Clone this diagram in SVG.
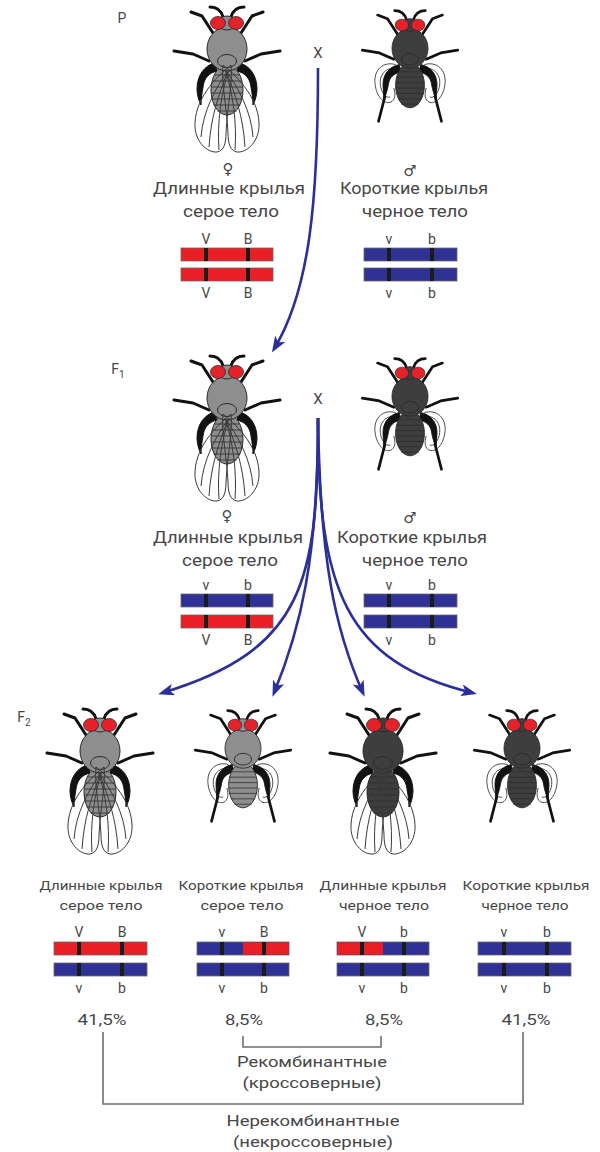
<svg xmlns="http://www.w3.org/2000/svg" xmlns:xlink="http://www.w3.org/1999/xlink" width="600" height="1152" viewBox="0 0 600 1152">
  <style>
    .t{font-family:Roboto,"Liberation Sans",Arial,sans-serif;fill:#474747;text-anchor:middle}
    .big{font-size:16px}
    .sm{font-size:13px}
    .gene{font-size:14px}
    .pct{font-size:14px}
    .sym{font-family:"DejaVu Sans",sans-serif;font-size:15px;fill:#474747;text-anchor:middle}
    .arrow{fill:none;stroke:#2b2f9c;stroke-width:2.6}
    .br{fill:none;stroke:#707070;stroke-width:1.6}
    .chr-r{fill:#ea1f26;stroke:#6a6a6a;stroke-width:.8}
    .chr-b{fill:#2f3194;stroke:#6a6a6a;stroke-width:.8}
    .red{fill:#ea1f26}
    .band{fill:#1b1b1b}
    .leg{fill:none;stroke:#111;stroke-width:3;stroke-linejoin:round;stroke-linecap:round}
    .hind{fill:#111;stroke:#111;stroke-width:1}
    .bd{stroke:#2a2a2a;stroke-width:1}
    .seg{fill:none;stroke:#2a2a2a;stroke-width:.8}
    .wing{fill:none;stroke:#3a3a3a;stroke-width:1}
    .eye{fill:#e5222a;stroke:#2a2a2a;stroke-width:.8}
  </style>
  <defs>
    <marker id="head" viewBox="0 0 16 12" refX="12" refY="6" markerWidth="16" markerHeight="12" markerUnits="userSpaceOnUse" orient="auto">
      <path d="M0,0 L16,6 L0,12 L4,6 Z" fill="#2b2f9c"/>
    </marker>
    <!-- one side of a fly; the other side is mirrored -->
    <g id="legsL">
      <path class="leg" d="M-14,10 L-25,-7 L-36,-11"/>
      <path class="leg" d="M-18,38 L-34,31 L-53,28"/>
    </g>
    <path id="hindLongL" class="hind" d="M-12,40 C-22,42 -30,52 -30,66 C-30,72 -28,78 -26,82 C-26,76 -25,70 -24,64 C-23,55 -18,50 -10,48 Z"/>
    <g id="hindShortL">
      <path class="hind" d="M-12,44 C-22,46 -30,54 -30,66 C-30,72 -29,78 -29,84 C-27,78 -25,72 -24,66 C-23,58 -18,54 -10,52 Z"/>
      <path class="leg" d="M-28,80 L-35,107" stroke-width="2.6"/>
    </g>
    <g id="wingLongL" class="wing">
      <path d="M4,42 C-6,50 -31,72 -32,100 C-33,118 -20,130 -10,129 C-3,128 -1,120 -1,110 C0,86 6,58 4,42 Z"/>
      <path d="M2,46 C-6,70 -10,100 -8,127"/>
      <path d="M2,46 C-12,66 -24,88 -26,114"/>
      <path d="M0,50 C-8,72 -16,92 -18,124"/>
    </g>
    <g id="wingShortL" class="wing">
      <path d="M-16,44 C-30,40 -40,50 -39,64 C-38,78 -30,88 -22,86 C-16,84 -16,76 -18,70"/>
      <path d="M-18,48 C-28,48 -34,56 -33,66 C-32,76 -26,82 -22,80"/>
    </g>
    <g id="body">
      <path class="leg" d="M-4,-6 C-6,-13 -10,-16 -17,-16 M4,-6 C6,-13 10,-16 17,-16" stroke-width="2.4"/>
      <ellipse class="bd" cx="0" cy="67" rx="16" ry="25"/>
      <path class="seg" d="M-12,52 H12 M-14.7,58 H14.7 M-15.8,64 H15.8 M-15.9,70 H15.9 M-15.2,76 H15.2 M-13.3,82 H13.3 M-9.6,88 H9.6"/>
      <ellipse class="bd" cx="0" cy="26" rx="20" ry="22"/>
      <ellipse class="bd" cx="0" cy="38" rx="9.5" ry="6.5"/>
      <ellipse class="bd" cx="0" cy="0" rx="9" ry="7"/>
      <ellipse class="eye" cx="-9" cy="0" rx="7.5" ry="6.5"/>
      <ellipse class="eye" cx="9" cy="0" rx="7.5" ry="6.5"/>
    </g>
    <g id="flyLong">
      <use href="#legsL"/>
      <use href="#legsL" transform="scale(-1,1)"/>
      <use href="#hindLongL"/>
      <use href="#hindLongL" transform="scale(-1,1)"/>
      <use href="#body"/>
      <use href="#wingLongL"/>
      <use href="#wingLongL" transform="scale(-1,1)"/>
    </g>
    <g id="flyShort">
      <use href="#wingShortL"/>
      <use href="#wingShortL" transform="scale(-1,1)"/>
      <use href="#legsL"/>
      <use href="#legsL" transform="scale(-1,1)"/>
      <use href="#hindShortL"/>
      <use href="#hindShortL" transform="scale(-1,1)"/>
      <use href="#body"/>
    </g>
  </defs>

  <rect width="600" height="1152" fill="#fff"/>

  <!-- generation labels -->
  <g id="gen-labels" class="t">
    <text x="122" y="23" font-size="14">P</text>
    <text x="118" y="374" font-size="14">F<tspan font-size="10" dy="4">1</tspan></text>
    <text x="24" y="722" font-size="14">F<tspan font-size="10" dy="4">2</tspan></text>
    <text x="318" y="58" font-size="15">X</text>
    <text x="318" y="404" font-size="15">X</text>
  </g>

  <!-- crossing arrows -->
  <g id="connectors" class="arrow">
    <path d="M318,68 C318,200 310,290 274,349" marker-end="url(#head)"/>
    <path d="M318,418 C318,580 305,650 162,693" marker-end="url(#head)"/>
    <path d="M318,418 C318,560 300,630 274,693" marker-end="url(#head)"/>
    <path d="M318,418 C320,560 335,630 363,693" marker-end="url(#head)"/>
    <path d="M318,418 C318,590 345,662 473,693" marker-end="url(#head)"/>
  </g>

  <!-- P generation -->
  <g id="p-female">
    <use href="#flyLong" fill="#8e8e8e" transform="translate(227,23)"/>
    <text class="sym" x="228" y="174">♀</text>
    <text class="t big" x="229" y="194" textLength="152" lengthAdjust="spacingAndGlyphs">Длинные крылья</text>
    <text class="t big" x="231" y="217" textLength="96" lengthAdjust="spacingAndGlyphs">серое тело</text>
    <rect class="chr-r" x="181" y="248" width="92" height="13"/>
    <rect class="chr-r" x="181" y="268" width="92" height="13"/>
    <rect class="band" x="204" y="248" width="4" height="13"/><rect class="band" x="246" y="248" width="4" height="13"/>
    <rect class="band" x="204" y="268" width="4" height="13"/><rect class="band" x="246" y="268" width="4" height="13"/>
    <text class="t gene" x="206" y="244">V</text><text class="t gene" x="248" y="244">B</text>
    <text class="t gene" x="206" y="298">V</text><text class="t gene" x="248" y="298">B</text>
  </g>
  <g id="p-male">
    <use href="#flyShort" fill="#3e3e3e" transform="translate(410,25) scale(0.9)"/>
    <text class="sym" x="410" y="176">♂</text>
    <text class="t big" x="414" y="194" textLength="148" lengthAdjust="spacingAndGlyphs">Короткие крылья</text>
    <text class="t big" x="415" y="217" textLength="106" lengthAdjust="spacingAndGlyphs">черное тело</text>
    <rect class="chr-b" x="364" y="248" width="93" height="13"/>
    <rect class="chr-b" x="364" y="268" width="93" height="13"/>
    <rect class="band" x="387" y="248" width="4" height="13"/><rect class="band" x="430" y="248" width="4" height="13"/>
    <rect class="band" x="387" y="268" width="4" height="13"/><rect class="band" x="430" y="268" width="4" height="13"/>
    <text class="t gene" x="389" y="244">v</text><text class="t gene" x="432" y="244">b</text>
    <text class="t gene" x="389" y="298">v</text><text class="t gene" x="432" y="298">b</text>
  </g>

  <!-- F1 generation -->
  <g id="f1-female">
    <use href="#flyLong" fill="#8e8e8e" transform="translate(227,372)"/>
    <text class="sym" x="227" y="521">♀</text>
    <text class="t big" x="228" y="543" textLength="150" lengthAdjust="spacingAndGlyphs">Длинные крылья</text>
    <text class="t big" x="230" y="566" textLength="96" lengthAdjust="spacingAndGlyphs">серое тело</text>
    <rect class="chr-b" x="181" y="594" width="92" height="13"/>
    <rect class="chr-r" x="181" y="615" width="92" height="13"/>
    <rect class="band" x="204" y="594" width="4" height="13"/><rect class="band" x="246" y="594" width="4" height="13"/>
    <rect class="band" x="204" y="615" width="4" height="13"/><rect class="band" x="246" y="615" width="4" height="13"/>
    <text class="t gene" x="206" y="590">v</text><text class="t gene" x="248" y="590">b</text>
    <text class="t gene" x="206" y="645">V</text><text class="t gene" x="248" y="645">B</text>
  </g>
  <g id="f1-male">
    <use href="#flyShort" fill="#3e3e3e" transform="translate(410,373) scale(0.9)"/>
    <text class="sym" x="410" y="523">♂</text>
    <text class="t big" x="412" y="543" textLength="150" lengthAdjust="spacingAndGlyphs">Короткие крылья</text>
    <text class="t big" x="415" y="566" textLength="106" lengthAdjust="spacingAndGlyphs">черное тело</text>
    <rect class="chr-b" x="364" y="594" width="93" height="13"/>
    <rect class="chr-b" x="364" y="615" width="93" height="13"/>
    <rect class="band" x="387" y="594" width="4" height="13"/><rect class="band" x="430" y="594" width="4" height="13"/>
    <rect class="band" x="387" y="615" width="4" height="13"/><rect class="band" x="430" y="615" width="4" height="13"/>
    <text class="t gene" x="389" y="590">v</text><text class="t gene" x="432" y="590">b</text>
    <text class="t gene" x="389" y="645">v</text><text class="t gene" x="432" y="645">b</text>
  </g>

  <!-- F2 generation -->
  <g id="f2-long-gray">
    <use href="#flyLong" fill="#8e8e8e" transform="translate(100,725)"/>
    <text class="t sm" x="101" y="890" textLength="123" lengthAdjust="spacingAndGlyphs">Длинные крылья</text>
    <text class="t sm" x="101" y="910" textLength="83" lengthAdjust="spacingAndGlyphs">серое тело</text>
    <rect class="chr-r" x="54" y="942" width="93" height="13"/>
    <rect class="chr-b" x="54" y="963" width="93" height="13"/>
    <rect class="band" x="77" y="942" width="4" height="13"/><rect class="band" x="120" y="942" width="4" height="13"/>
    <rect class="band" x="77" y="963" width="4" height="13"/><rect class="band" x="120" y="963" width="4" height="13"/>
    <text class="t gene" x="79" y="937">V</text><text class="t gene" x="122" y="937">B</text>
    <text class="t gene" x="79" y="993">v</text><text class="t gene" x="122" y="993">b</text>
    <text class="t pct" x="102" y="1025" textLength="49" lengthAdjust="spacingAndGlyphs">41,5%</text>
  </g>
  <g id="f2-short-gray">
    <use href="#flyShort" fill="#8e8e8e" transform="translate(243,725) scale(0.9)"/>
    <text class="t sm" x="241" y="890" textLength="125" lengthAdjust="spacingAndGlyphs">Короткие крылья</text>
    <text class="t sm" x="242" y="910" textLength="83" lengthAdjust="spacingAndGlyphs">серое тело</text>
    <rect class="chr-b" x="197" y="942" width="92" height="13"/>
    <rect class="red" x="243" y="942.4" width="45.6" height="12.2"/>
    <rect class="chr-b" x="197" y="963" width="92" height="13"/>
    <rect class="band" x="220" y="942" width="4" height="13"/><rect class="band" x="262" y="942" width="4" height="13"/>
    <rect class="band" x="220" y="963" width="4" height="13"/><rect class="band" x="262" y="963" width="4" height="13"/>
    <text class="t gene" x="222" y="937">v</text><text class="t gene" x="264" y="937">B</text>
    <text class="t gene" x="222" y="993">v</text><text class="t gene" x="264" y="993">b</text>
    <text class="t pct" x="244" y="1025" textLength="38" lengthAdjust="spacingAndGlyphs">8,5%</text>
  </g>
  <g id="f2-long-black">
    <use href="#flyLong" fill="#3e3e3e" transform="translate(383,725)"/>
    <text class="t sm" x="383" y="890" textLength="127" lengthAdjust="spacingAndGlyphs">Длинные крылья</text>
    <text class="t sm" x="384" y="910" textLength="90" lengthAdjust="spacingAndGlyphs">черное тело</text>
    <rect class="chr-b" x="337" y="942" width="92" height="13"/>
    <rect class="red" x="337.4" y="942.4" width="45.6" height="12.2"/>
    <rect class="chr-b" x="337" y="963" width="92" height="13"/>
    <rect class="band" x="360" y="942" width="4" height="13"/><rect class="band" x="402" y="942" width="4" height="13"/>
    <rect class="band" x="360" y="963" width="4" height="13"/><rect class="band" x="402" y="963" width="4" height="13"/>
    <text class="t gene" x="362" y="937">V</text><text class="t gene" x="404" y="937">b</text>
    <text class="t gene" x="362" y="993">v</text><text class="t gene" x="404" y="993">b</text>
    <text class="t pct" x="384" y="1025" textLength="38" lengthAdjust="spacingAndGlyphs">8,5%</text>
  </g>
  <g id="f2-short-black">
    <use href="#flyShort" fill="#3e3e3e" transform="translate(522,725) scale(0.9)"/>
    <text class="t sm" x="526" y="890" textLength="127" lengthAdjust="spacingAndGlyphs">Короткие крылья</text>
    <text class="t sm" x="525" y="910" textLength="87" lengthAdjust="spacingAndGlyphs">черное тело</text>
    <rect class="chr-b" x="478" y="942" width="93" height="13"/>
    <rect class="chr-b" x="478" y="963" width="93" height="13"/>
    <rect class="band" x="502" y="942" width="4" height="13"/><rect class="band" x="545" y="942" width="4" height="13"/>
    <rect class="band" x="502" y="963" width="4" height="13"/><rect class="band" x="545" y="963" width="4" height="13"/>
    <text class="t gene" x="504" y="937">v</text><text class="t gene" x="547" y="937">b</text>
    <text class="t gene" x="504" y="993">v</text><text class="t gene" x="547" y="993">b</text>
    <text class="t pct" x="526" y="1025" textLength="49" lengthAdjust="spacingAndGlyphs">41,5%</text>
  </g>

  <!-- class brackets -->
  <g id="recombinant">
    <path class="br" d="M243,1036 V1047 H381 V1036"/>
    <text class="t" font-size="15" x="312" y="1067" textLength="150" lengthAdjust="spacingAndGlyphs">Рекомбинантные</text>
    <text class="t" font-size="15" x="312" y="1088" textLength="139" lengthAdjust="spacingAndGlyphs">(кроссоверные)</text>
  </g>
  <g id="nonrecombinant">
    <path class="br" d="M103,1032 V1104 H523 V1032"/>
    <text class="t" font-size="15" x="313" y="1126" textLength="173" lengthAdjust="spacingAndGlyphs">Нерекомбинантные</text>
    <text class="t" font-size="15" x="313" y="1147" textLength="160" lengthAdjust="spacingAndGlyphs">(некроссоверные)</text>
  </g>
</svg>
